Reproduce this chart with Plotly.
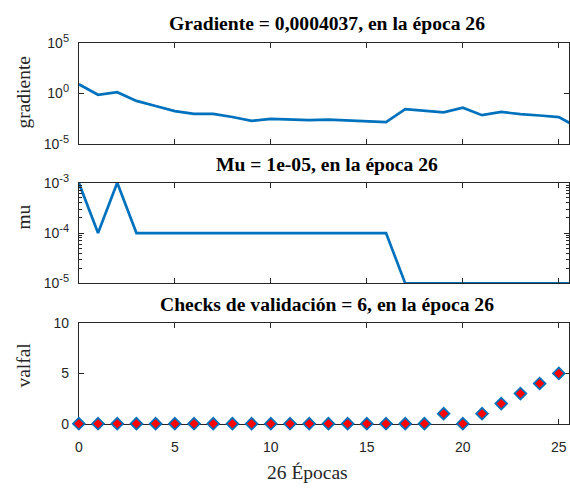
import plotly.graph_objects as go

# Training state per epoch
epochs = list(range(27))
gradient = [8.1, 0.72, 1.3, 0.178, 0.055, 0.017, 0.0093, 0.0093, 0.0045, 0.00186,
            0.0029, 0.0025, 0.00214, 0.0025, 0.0020, 0.00186, 0.00138, 0.0263, 0.0170,
            0.0130, 0.038, 0.0068, 0.0141, 0.0085, 0.0063, 0.0044, 0.0004037]
mu = [1e-3, 1e-4, 1e-3, 1e-4, 1e-4, 1e-4, 1e-4, 1e-4, 1e-4, 1e-4, 1e-4, 1e-4, 1e-4, 1e-4,
      1e-4, 1e-4, 1e-4, 1e-5, 1e-5, 1e-5, 1e-5, 1e-5, 1e-5, 1e-5, 1e-5, 1e-5, 1e-5]
val_fail = [0, 0, 0, 0, 0, 0, 0, 0, 0, 0, 0, 0, 0, 0, 0, 0, 0, 0, 0, 1, 0, 1, 2, 3, 4, 5, 6]

x_ticks = [0, 5, 10, 15, 20, 25]
grad_ticks = [1e-5, 1, 1e5]
grad_exps = ["-5", "0", "5"]
mu_ticks = [1e-5, 1e-4, 1e-3]
mu_exps = ["-5", "-4", "-3"]
mu_minor = [k * 10.0 ** e for e in (-5, -4) for k in range(2, 10)]
val_ticks = [0, 5, 10]

titles = ["Gradiente = 0,0004037, en la época 26",
          "Mu = 1e-05, en la época 26",
          "Checks de validación = 6, en la época 26"]
ylabels = ["gradiente", "mu", "valfal"]
xlabel = "26 Épocas"

W, H = 570, 492
BLUE = "#0072BD"
AX = "#262626"
SERIF = "Liberation Serif"
SANS = "Liberation Sans"


def pow10(exp):
    return "10<sup><span style='font-size:11px'>" + exp + "</span></sup>"


left_px = 75.5
px_per_epoch = 19.37
x_dom = [left_px / W, 1.0]
x_max = (W - left_px) / px_per_epoch

# panel vertical extents in pixels (top, bottom)
panels = [(33.3, 138.0), (178.7, 283.3), (324.7, 429.3)]
doms = [[1 - b / H, 1 - t / H] for t, b in panels]

fig = go.Figure()
fig.add_trace(go.Scatter(x=epochs, y=gradient, mode="lines",
                         line=dict(color=BLUE, width=2.7), xaxis="x", yaxis="y",
                         showlegend=False))
fig.add_trace(go.Scatter(x=epochs, y=mu, mode="lines",
                         line=dict(color=BLUE, width=2.7), xaxis="x2", yaxis="y2",
                         showlegend=False))
fig.add_trace(go.Scatter(x=epochs, y=val_fail, mode="markers",
                         marker=dict(symbol="diamond", size=9, color="#FF0000",
                                     line=dict(color=BLUE, width=1.8)),
                         cliponaxis=False, xaxis="x3", yaxis="y3", showlegend=False))


def xaxis(anchor, labels):
    return dict(domain=x_dom, range=[0, x_max], anchor=anchor, tickvals=x_ticks,
                ticks="inside", ticklen=5, tickcolor=AX, showline=True,
                linecolor=AX, linewidth=1, mirror="ticks", showgrid=False,
                zeroline=False, showticklabels=labels, ticklabelstandoff=10,
                tickfont=dict(family=SANS, size=14, color=AX))


def yaxis(anchor, dom, **kw):
    d = dict(domain=dom, anchor=anchor, ticks="inside", ticklen=5, tickcolor=AX,
             showline=True, linecolor=AX, linewidth=1, mirror="ticks",
             showgrid=False, zeroline=False, ticklabelstandoff=6,
             tickfont=dict(family=SANS, size=14, color=AX))
    d.update(kw)
    return d


fig.update_layout(
    width=W, height=H,
    margin=dict(l=0, r=0, t=0, b=0),
    paper_bgcolor="white", plot_bgcolor="white",
    xaxis=xaxis("y", False),
    xaxis2=xaxis("y2", False),
    xaxis3=dict(xaxis("y3", True), layer="below traces"),
    yaxis=yaxis("x", doms[0], type="log", range=[-5, 5],
                tickvals=grad_ticks, ticktext=[pow10(e) for e in grad_exps]),
    yaxis2=yaxis("x2", doms[1], type="log", range=[-5, -3],
                 tickvals=mu_ticks, ticktext=[pow10(e) for e in mu_exps],
                 minor=dict(tickvals=mu_minor, ticks="inside", ticklen=3,
                            tickcolor=AX, showgrid=False)),
    yaxis3=yaxis("x3", doms[2], range=[0, 10], tickvals=val_ticks,
                 layer="below traces"),
)

title_x = 325.5 / W
title_y = [13.5, 159.6, 305.6]
ylabel_y = [84.0, 214.0, 368.0]
annotations = []
for t, ty in zip(titles, title_y):
    annotations.append(dict(text="<b>" + t + "</b>", xref="paper", yref="paper",
                            x=title_x, y=1 - ty / H, xanchor="center", yanchor="middle",
                            showarrow=False, font=dict(family=SERIF, size=19.6, color="black")))
for lab, ly in zip(ylabels, ylabel_y):
    annotations.append(dict(text=lab, xref="paper", yref="paper", x=20.0 / W,
                            y=1 - ly / H, xanchor="center", yanchor="middle",
                            textangle=-90, showarrow=False,
                            font=dict(family=SERIF, size=19.5, color=AX)))
annotations.append(dict(text=xlabel, xref="paper", yref="paper", x=305.7 / W,
                        y=1 - 480.0 / H, xanchor="center", yanchor="middle",
                        showarrow=False, font=dict(family=SERIF, size=19.5, color=AX)))
fig.update_layout(annotations=annotations)

fig.write_html("out.html")
